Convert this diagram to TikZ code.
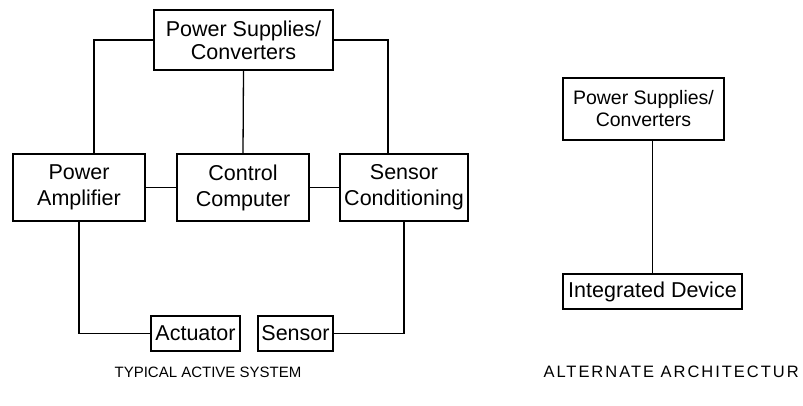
\documentclass[tikz,border=0pt]{standalone}
\usepackage{fontspec}
\setmainfont{Liberation Sans}
\begin{document}
\begin{tikzpicture}[x=1pt,y=-1pt,
  box/.style={draw,line width=1.3pt,inner sep=0pt,align=center,
    font=\fontsize{21.5}{23}\selectfont},
  tallbox/.style={box,font=\fontsize{21.5}{26}\selectfont},
  smallbox/.style={box,font=\fontsize{19.5}{22}\selectfont},
  wire/.style={line width=1.3pt},
  caption/.style={font=\fontsize{15}{18}\selectfont}]
\useasboundingbox (0,0) rectangle (803,406);
% typical active system
\node [box,minimum width=179pt,minimum height=60pt] (ps) at (243.5,40) {Power Supplies/\\Converters};
\node [tallbox,minimum width=132pt,minimum height=67pt] (amp) at (79,187.5) {Power\\Amplifier};
\node [tallbox,minimum width=132pt,minimum height=67pt] (cpu) at (243,187.5) {Control\\Computer};
\node [tallbox,minimum width=128pt,minimum height=67pt] (cond) at (404,187.5) {Sensor\\Conditioning};
\node [box,minimum width=89pt,minimum height=35pt] (act) at (195.5,333.5) {Actuator};
\node [box,minimum width=75pt,minimum height=35pt] (sens) at (295.5,333.5) {Sensor};
\draw [wire] (ps.west) -| ([xshift=15pt]amp.north);
\draw [wire] (ps.east) -| ([xshift=-16pt]cond.north);
\draw [wire] (ps.south) -- (cpu.north);
\draw [wire] (amp) -- (cpu);
\draw [wire] (cpu) -- (cond);
\draw [wire] (amp.south) |- (act.west);
\draw [wire] (sens.east) -| (cond.south);
% alternate architecture
\node [smallbox,minimum width=161pt,minimum height=62pt] (ps2) at (643.5,109) {Power Supplies/\\Converters};
\node [box,minimum width=179pt,minimum height=35pt] (dev) at (652.5,291.5) {Integrated Device};
\draw [wire] (ps2.south -| dev.north) -- (dev.north);
\node [caption] (typ) at (208,372) {TYPICAL ACTIVE SYSTEM};
\node [caption,anchor=west,font=\fontsize{16.5}{19}\selectfont\addfontfeature{LetterSpace=12}] (alt) at (540,372) {ALTERNATE ARCHITECTUR};
\end{tikzpicture}
\end{document}
